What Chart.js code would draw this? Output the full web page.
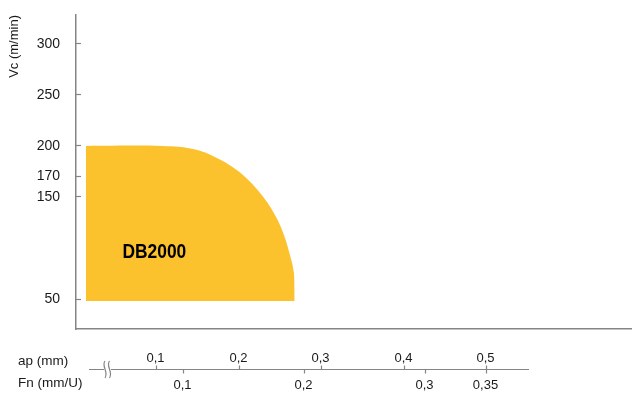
<!DOCTYPE html>
<html>
<head>
<meta charset="utf-8">
<script src="https://cdn.jsdelivr.net/npm/chart.js@4.4.1/dist/chart.umd.min.js"></script>
<style>
html, body { margin: 0; padding: 0; background: #fff; }
canvas { display: block; }
</style>
</head>
<body>
<canvas id="chart" width="632" height="394"></canvas>
<script>
// values
const vcTicks = [50, 150, 170, 200, 250, 300]
const apTicks = [0.1, 0.2, 0.3, 0.4, 0.5]
const fnTicks = [0.1, 0.2, 0.3, 0.35]

// outline of the DB2000 field: x in ap (mm), y in Vc (m/min)
const fieldAp = [0.015, 0.108, 0.145, 0.172, 0.196, 0.214, 0.23, 0.243, 0.254, 0.262, 0.267, 0.268, 0.268]
const fieldVc = [200, 200, 197, 189, 177.5, 165, 150, 134, 115, 94, 76, 59, 48]
const fieldFloor = 48
const fieldName = 'DB2000'
const fieldLabelAp = 0.098
const fieldLabelVc = 96

const axisColor = '#858585'
const textColor = '#1a1a1a'
const fontFamily = '"Liberation Sans", Arial, sans-serif'

function comma(v) {
    return String(v).replace('.', ',')
}

// start: bottom scale (ap above the line, Fn below it)
const dualAxis = {
    id: 'dualAxis',
    afterDatasetsDraw(chart) {
        const ctx = chart.ctx
        const x = chart.scales.x
        const y = chart.scales.y
        ctx.save()
        ctx.translate(x.getPixelForValue(fieldLabelAp), y.getPixelForValue(fieldLabelVc))
        ctx.scale(0.87, 1)
        ctx.fillStyle = '#000'
        ctx.font = 'bold 20px ' + fontFamily
        ctx.textAlign = 'center'
        ctx.textBaseline = 'middle'
        ctx.fillText(fieldName, 0, 0)
        ctx.restore()
    },
    afterDraw(chart) {
        const ctx = chart.ctx
        const ap = chart.scales.x
        const fn = chart.scales.fn
        const lineY = 369.5
        ctx.save()
        ctx.strokeStyle = axisColor
        ctx.lineWidth = 1.2

        // axis line with a break
        ctx.beginPath()
        ctx.moveTo(89, lineY)
        ctx.lineTo(104, lineY)
        ctx.moveTo(111, lineY)
        ctx.lineTo(529, lineY)
        ctx.stroke()
        ;[105, 109.5].forEach(function (bx) {
            ctx.beginPath()
            ctx.moveTo(bx, 361)
            ctx.bezierCurveTo(bx - 4, 366, bx + 4, 372, bx, 378)
            ctx.stroke()
        })

        ctx.fillStyle = textColor
        ctx.font = '13px ' + fontFamily
        ctx.textAlign = 'center'
        ctx.textBaseline = 'middle'

        apTicks.forEach(function (v) {
            const px = Math.round(ap.getPixelForValue(v)) + 0.5
            ctx.beginPath()
            ctx.moveTo(px, lineY)
            ctx.lineTo(px, lineY - 4)
            ctx.stroke()
            ctx.fillText(comma(v), px - 1, 358)
        })
        fnTicks.forEach(function (v) {
            const px = Math.round(fn.getPixelForValue(v)) + 0.5
            ctx.beginPath()
            ctx.moveTo(px, lineY)
            ctx.lineTo(px, lineY + 4)
            ctx.stroke()
            ctx.fillText(comma(v), px - 1, 385)
        })

        ctx.textAlign = 'left'
        ctx.font = '13.5px ' + fontFamily
        ctx.fillText('ap (mm)', 18, 361)
        ctx.fillText('Fn (mm/U)', 18, 383)
        ctx.restore()
    }
}
// end: bottom scale

new Chart(document.getElementById('chart'), {
    type: 'line',
    data: {
        datasets: [
            {
                label: fieldName,
                data: fieldAp.map(function (v, i) {
                    return { x: v, y: fieldVc[i] }
                }),
                fill: { value: fieldFloor },
                backgroundColor: '#FBC22D',
                borderColor: '#FBC22D',
                borderWidth: 0,
                pointRadius: 0,
                tension: 0.4
            }
        ]
    },
    options: {
        responsive: false,
        animation: false,
        devicePixelRatio: 1,
        layout: {
            padding: { top: 15, right: 0, bottom: 65, left: 0 }
        },
        plugins: {
            legend: { display: false },
            tooltip: { enabled: false }
        },
        scales: {
            x: {
                type: 'linear',
                min: 0.0031,
                max: 0.6767,
                ticks: { display: false },
                grid: { display: false, drawTicks: false },
                border: { display: true, color: axisColor, width: 1.5 }
            },
            fn: {
                type: 'linear',
                axis: 'x',
                position: 'bottom',
                display: false,
                min: 0.0112,
                max: 0.471
            },
            y: {
                min: 20.6,
                max: 328.4,
                afterBuildTicks: function (scale) {
                    scale.ticks = vcTicks.map(function (v) {
                        return { value: v }
                    })
                },
                afterFit: function (scale) {
                    scale.width = 76
                    scale.paddingTop = 0
                    scale.paddingBottom = 0
                },
                border: { color: axisColor, width: 1.5 },
                grid: { drawOnChartArea: false, tickLength: -5, tickColor: axisColor, tickWidth: 1.2 },
                ticks: {
                    padding: 21,
                    color: textColor,
                    font: { size: 14, family: fontFamily }
                },
                title: {
                    display: true,
                    text: 'Vc (m/min)',
                    align: 'end',
                    color: textColor,
                    padding: { top: 7, bottom: 0 },
                    font: { size: 13, family: fontFamily }
                }
            }
        }
    },
    plugins: [dualAxis]
});
</script>
</body>
</html>
